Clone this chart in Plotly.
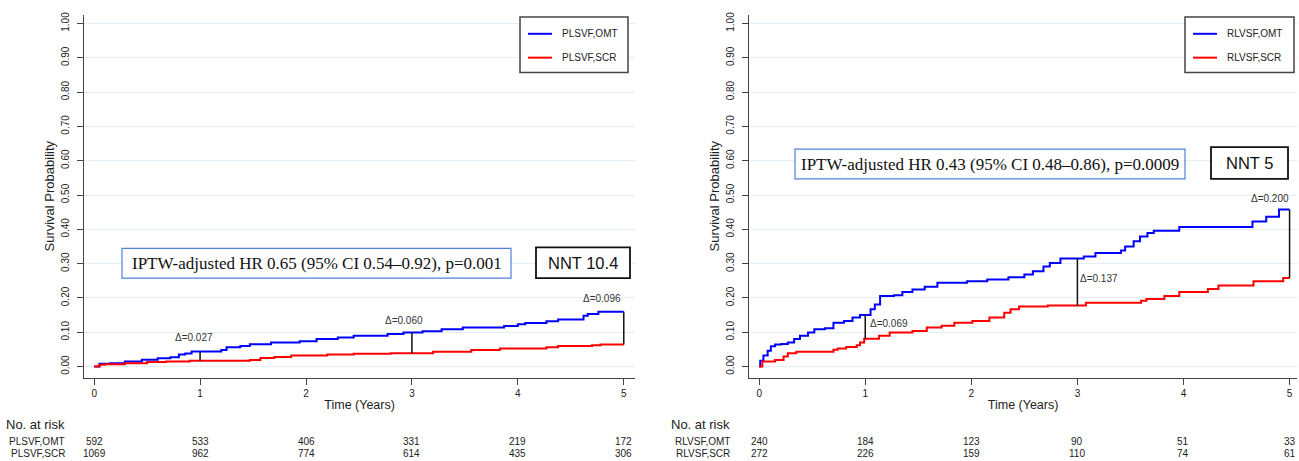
import plotly.graph_objects as go

W, H = 1299, 461

# ---------------- data ----------------
years = [0, 1, 2, 3, 4, 5]

# PLSVF panel: step curves (time of step, cumulative value)
pl_omt_t = [0, 0.05, 0.15, 0.29, 0.45, 0.6, 0.72, 0.8, 0.86, 0.92, 1.2, 1.25, 1.38, 1.47,
            1.67, 1.94, 2.1, 2.3, 2.45, 2.77, 2.92, 3.1, 3.28, 3.48, 3.87, 4.0, 4.07, 4.27,
            4.38, 4.62, 4.66, 4.76, 5.0]
pl_omt_v = [0, 0.008, 0.010, 0.015, 0.020, 0.024, 0.027, 0.035, 0.038, 0.044, 0.048, 0.056,
            0.060, 0.065, 0.070, 0.074, 0.080, 0.085, 0.090, 0.095, 0.099, 0.103, 0.109,
            0.114, 0.118, 0.123, 0.127, 0.132, 0.137, 0.148, 0.153, 0.160, 0.160]
pl_scr_t = [0, 0.05, 0.1, 0.29, 0.5, 0.68, 0.9, 1.47, 1.57, 1.7, 1.86, 2.2, 2.45, 2.8, 3.2,
            3.56, 3.83, 4.27, 4.38, 4.7, 4.78, 5.0]
pl_scr_v = [0, 0.005, 0.007, 0.010, 0.013, 0.015, 0.017, 0.019, 0.025, 0.028, 0.032, 0.035,
            0.037, 0.039, 0.043, 0.048, 0.053, 0.056, 0.060, 0.062, 0.064, 0.064]

# RLVSF panel
rl_omt_t = [0, 0.01, 0.04, 0.08, 0.11, 0.15, 0.21, 0.27, 0.33, 0.385, 0.46, 0.52, 0.62, 0.7,
            0.8, 0.88, 0.95, 1.05, 1.09, 1.14, 1.27, 1.35, 1.445, 1.56, 1.68, 1.96, 2.15,
            2.35, 2.5, 2.58, 2.68, 2.74, 2.84, 3.06, 3.17, 3.41, 3.45, 3.53, 3.59, 3.66,
            3.72, 3.96, 4.65, 4.78, 4.9, 5.0]
rl_omt_v = [0, 0.017, 0.032, 0.046, 0.059, 0.064, 0.066, 0.070, 0.080, 0.090, 0.099, 0.109,
            0.112, 0.128, 0.133, 0.143, 0.150, 0.167, 0.181, 0.206, 0.208, 0.217, 0.225,
            0.233, 0.244, 0.249, 0.254, 0.260, 0.268, 0.278, 0.292, 0.302, 0.315, 0.321,
            0.331, 0.338, 0.350, 0.365, 0.379, 0.389, 0.396, 0.407, 0.423, 0.437, 0.458, 0.458]
rl_scr_t = [0, 0.03, 0.15, 0.23, 0.27, 0.35, 0.7, 0.74, 0.82, 0.92, 0.95, 0.99, 1.13, 1.23,
            1.445, 1.58, 1.72, 1.84, 2.01, 2.17, 2.31, 2.37, 2.45, 2.72, 3.08, 3.6, 3.65,
            3.82, 3.96, 4.23, 4.33, 4.66, 4.94, 5.0]
rl_scr_v = [0, 0.015, 0.019, 0.029, 0.039, 0.043, 0.049, 0.053, 0.057, 0.062, 0.070, 0.081,
            0.090, 0.099, 0.104, 0.114, 0.119, 0.128, 0.133, 0.143, 0.157, 0.167, 0.175,
            0.178, 0.186, 0.192, 0.197, 0.206, 0.217, 0.226, 0.236, 0.249, 0.258, 0.258]

# between-group differences marked at chosen years
pl_delta_t = [1, 3, 5]
pl_delta = [0.027, 0.060, 0.096]
rl_delta_t = [1, 3, 5]
rl_delta = [0.069, 0.137, 0.200]

# numbers at risk
pl_risk_omt = [592, 533, 406, 331, 219, 172]
pl_risk_scr = [1069, 962, 774, 614, 435, 306]
rl_risk_omt = [240, 184, 123, 90, 51, 33]
rl_risk_scr = [272, 226, 159, 110, 74, 61]

pl_names = ["PLSVF,OMT", "PLSVF,SCR"]
rl_names = ["RLVSF,OMT", "RLVSF,SCR"]
pl_hr_text = "IPTW-adjusted HR 0.65 (95% CI 0.54–0.92), p=0.001"
rl_hr_text = "IPTW-adjusted HR 0.43 (95% CI 0.48–0.86), p=0.0009"
pl_nnt_text = "NNT 10.4"
rl_nnt_text = "NNT 5"

# ---------------- helpers ----------------
SANS = "Liberation Sans, Arial, sans-serif"
SERIF = "Liberation Serif, Times New Roman, serif"
TXT = "#222222"


def px(x):
    return x / W


def py(y):
    return 1 - y / H


def step_at(ts, vs, t):
    val = vs[0]
    for ti, vi in zip(ts, vs):
        if ti <= t + 1e-9:
            val = vi
    return val


fig = go.Figure()

panels = [
    dict(xa="x", ya="y", xdom=(84.2, 635), xr=(-0.094, 5.106),
         omt=(pl_omt_t, pl_omt_v), scr=(pl_scr_t, pl_scr_v), names=pl_names,
         dt=pl_delta_t, dv=pl_delta,
         dlab=[(0.944, 0.085, "center"), (2.925, 0.133, "center"), (4.79, 0.197, "center")],
         risk=(pl_risk_omt, pl_risk_scr), lab_right=67,
         legend=dict(x0=520, x1=628, y0=14, y1=70),
         hr=dict(x0=122, x1=511, y0=247, y1=277, text=pl_hr_text),
         nnt=dict(x0=536, x1=630, y0=246, y1=277, text=pl_nnt_text)),
    dict(xa="x2", ya="y2", xdom=(749.2, 1297), xr=(-0.094, 5.07),
         omt=(rl_omt_t, rl_omt_v), scr=(rl_scr_t, rl_scr_v), names=rl_names,
         dt=rl_delta_t, dv=rl_delta,
         dlab=[(1.025, 0.127, "left"), (3.005, 0.258, "left"), (4.814, 0.489, "center")],
         risk=(rl_risk_omt, rl_risk_scr), lab_right=732,
         legend=dict(x0=1185, x1=1294, y0=14, y1=70),
         hr=dict(x0=795, x1=1185, y0=147, y1=177, text=rl_hr_text),
         nnt=dict(x0=1211, x1=1288, y0=145, y1=177, text=rl_nnt_text)),
]

shapes = []
annotations = []

for p in panels:
    xa, ya = p["xa"], p["ya"]
    # survival curves
    for (ts, vs), name, color in zip([p["omt"], p["scr"]], p["names"], ["#0000ff", "#ff0000"]):
        fig.add_trace(go.Scatter(x=ts, y=vs, mode="lines", name=name,
                                 line=dict(color=color, width=2, shape="hv"),
                                 xaxis=xa, yaxis=ya, showlegend=False))
    # difference bars
    for t, d in zip(p["dt"], p["dv"]):
        top = step_at(*p["omt"], t)
        fig.add_trace(go.Scatter(x=[t, t], y=[top, top - d], mode="lines",
                                 line=dict(color="#111111", width=1.5),
                                 xaxis=xa, yaxis=ya, showlegend=False, hoverinfo="skip"))
    for (lx, ly, anchor), d in zip(p["dlab"], p["dv"]):
        annotations.append(dict(x=lx, y=ly, xref=xa, yref=ya, text=f"Δ={d:.3f}",
                                showarrow=False, xanchor=anchor, yanchor="middle",
                                font=dict(family=SANS, size=10, color="#333333")))

    # legend box
    lg = p["legend"]
    shapes.append(dict(type="rect", xref="paper", yref="paper",
                       x0=px(lg["x0"]), x1=px(lg["x1"]), y0=py(lg["y1"]), y1=py(lg["y0"]),
                       line=dict(color="#444444", width=1.5), fillcolor="white"))
    for i, (name, color) in enumerate(zip(p["names"], ["#0000ff", "#ff0000"])):
        yy = 31 + 24 * i
        shapes.append(dict(type="line", xref="paper", yref="paper",
                           x0=px(lg["x0"] + 8), x1=px(lg["x0"] + 32), y0=py(yy), y1=py(yy),
                           line=dict(color=color, width=2)))
        annotations.append(dict(x=px(lg["x0"] + 40), y=py(yy), xref="paper", yref="paper",
                                text=name, showarrow=False, xanchor="left", yanchor="middle",
                                font=dict(family=SANS, size=10, color=TXT)))

    # HR box
    hr = p["hr"]
    shapes.append(dict(type="rect", xref="paper", yref="paper",
                       x0=px(hr["x0"]), x1=px(hr["x1"]), y0=py(hr["y1"]), y1=py(hr["y0"]),
                       line=dict(color="#4f81d6", width=1.2), fillcolor="white", layer="above"))
    annotations.append(dict(x=px((hr["x0"] + hr["x1"]) / 2), y=py((hr["y0"] + hr["y1"]) / 2 + 0.5),
                            xref="paper", yref="paper", text=hr["text"], showarrow=False,
                            xanchor="center", yanchor="middle",
                            font=dict(family=SERIF, size=17, color="#111111")))
    # NNT box
    nn = p["nnt"]
    shapes.append(dict(type="rect", xref="paper", yref="paper",
                       x0=px(nn["x0"]), x1=px(nn["x1"]), y0=py(nn["y1"]), y1=py(nn["y0"]),
                       line=dict(color="#111111", width=1.8), fillcolor="white", layer="above"))
    annotations.append(dict(x=px((nn["x0"] + nn["x1"]) / 2), y=py((nn["y0"] + nn["y1"]) / 2),
                            xref="paper", yref="paper", text=nn["text"], showarrow=False,
                            xanchor="center", yanchor="middle",
                            font=dict(family=SANS, size=16.5, color="#111111")))

    # risk table
    annotations.append(dict(x=px(p["lab_right"]), y=py(424), xref="paper", yref="paper",
                            text="No. at risk", showarrow=False, xanchor="right", yanchor="middle",
                            font=dict(family=SANS, size=13, color=TXT)))
    for row, (name, counts) in enumerate(zip(p["names"], p["risk"])):
        yy = 441 + 12 * row
        annotations.append(dict(x=px(p["lab_right"]), y=py(yy), xref="paper", yref="paper",
                                text=name, showarrow=False, xanchor="right", yanchor="middle",
                                font=dict(family=SANS, size=10, color=TXT)))
        for t, n in zip(years, counts):
            annotations.append(dict(x=t, y=py(yy), xref=xa, yref="paper", text=str(n),
                                    showarrow=False, xanchor="center", yanchor="middle",
                                    font=dict(family=SANS, size=10, color=TXT)))

axis_common_x = dict(
    tickvals=years, ticks="outside", ticklen=6, tickcolor="#444444", tickwidth=1,
    showline=True, linecolor="#444444", linewidth=1.2, showgrid=False, zeroline=False,
    tickfont=dict(family=SANS, size=10, color=TXT),
    title=dict(text="Time (Years)", font=dict(family=SANS, size=12.5, color=TXT), standoff=2),
)
axis_common_y = dict(
    range=[-0.032, 1.025], tick0=0, dtick=0.1, tickformat=".2f", tickangle=-90,
    ticks="outside", ticklen=6, tickcolor="#444444", tickwidth=1, ticklabelstandoff=4,
    showline=True, linecolor="#444444", linewidth=1.2, showgrid=True,
    gridcolor="#e6eef3", gridwidth=1, zeroline=False,
    tickfont=dict(family=SANS, size=10, color=TXT),
    title=dict(text="Survival Probability", font=dict(family=SANS, size=13, color=TXT), standoff=2),
)

ydom = [py(377), py(12)]
fig.update_layout(
    width=W, height=H, margin=dict(l=0, r=0, t=0, b=0),
    paper_bgcolor="white", plot_bgcolor="white",
    xaxis=dict(domain=[px(panels[0]["xdom"][0]), px(panels[0]["xdom"][1])],
               range=list(panels[0]["xr"]), anchor="y", **axis_common_x),
    yaxis=dict(domain=ydom, anchor="x", **axis_common_y),
    xaxis2=dict(domain=[px(panels[1]["xdom"][0]), px(panels[1]["xdom"][1])],
                range=list(panels[1]["xr"]), anchor="y2", **axis_common_x),
    yaxis2=dict(domain=ydom, anchor="x2", **axis_common_y),
    shapes=shapes, annotations=annotations, showlegend=False,
)

fig.write_html("out.html")
